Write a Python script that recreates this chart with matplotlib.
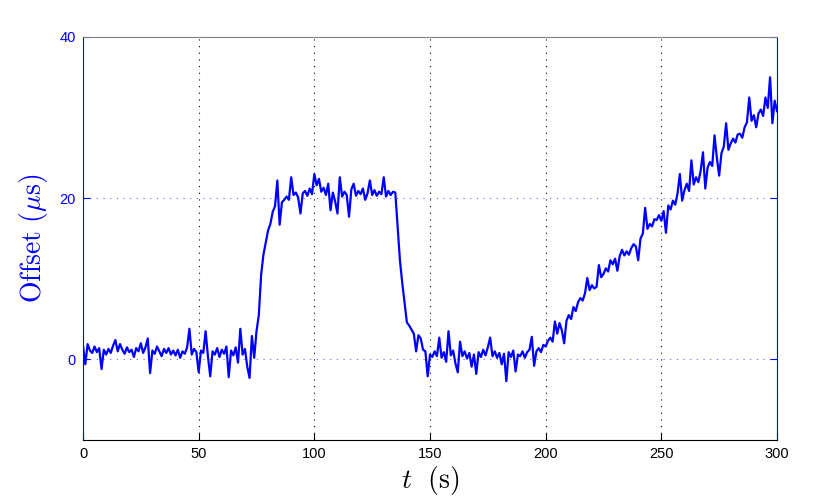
import matplotlib
matplotlib.use('Agg')
import matplotlib.pyplot as plt
import numpy as np

plt.rcParams['font.family'] = ['Liberation Sans', 'DejaVu Sans']
plt.rcParams['mathtext.fontset'] = 'cm'

t = np.arange(0, 301)
offset = [
    1.7, -0.6, 1.9, 1.1, 0.8, 1.6, 0.9, 1.4, -1.2, 1.2,
    0.6, 1.3, 0.8, 1.7, 2.4, 1.0, 1.9, 1.2, 0.7, 1.5,
    0.9, 1.2, 0.3, 1.4, 1.0, 2.0, 0.8, 1.5, 2.6, -1.7,
    1.1, 0.7, 1.6, 1.0, 0.4, 1.3, 0.8, 1.4, 0.6, 1.1,
    0.5, 1.2, 0.2, 1.0, 0.7, 1.5, 3.8, 0.6, 1.3, 0.9,
    -1.6, 1.1, 0.8, 3.5, 0.4, -2.1, 1.0, 0.6, 1.4, 0.3,
    1.2, 0.7, 1.6, -2.2, 1.1, 0.5, 1.5, -0.4, 3.8, 0.6,
    1.3, -0.9, -2.3, 2.9, 0.2, 3.5, 5.5, 10.5, 13.0, 14.5,
    16.0, 16.8, 18.3, 19.0, 22.2, 16.7, 19.5, 19.8, 20.2, 19.8,
    22.6, 20.4, 20.7, 20.1, 18.1, 20.6, 20.9, 20.3, 21.2, 20.5,
    23.0, 21.6, 22.4, 20.8, 21.3, 20.4, 21.8, 18.5, 20.7, 19.6,
    18.1, 22.6, 20.2, 20.8, 20.4, 17.7, 21.1, 21.8, 20.3, 20.9,
    20.5, 21.2, 19.8, 20.6, 22.2, 20.4, 21.0, 20.3, 20.8, 20.5,
    22.6, 20.2, 20.9, 20.4, 20.8, 20.7, 16.4, 12.3, 9.5, 7.0,
    4.6, 4.2, 3.7, 3.2, 1.0, 3.0, 2.6, 1.2, 1.0, -2.1,
    0.6, 0.3, 1.0, 0.4, 2.7, 0.2, 0.9, -0.3, 3.5, 0.5,
    1.1, -0.5, -1.6, 2.2, 0.4, 1.0, 0.1, 0.8, -0.9, 0.6,
    -1.8, 0.9, 0.3, 1.2, 0.5, 1.5, 2.7, 0.4, 1.0, 0.2,
    0.8, -0.6, 0.7, -2.7, 0.9, 0.3, 1.1, -1.5, 0.6, 0.4,
    1.0, 0.2, 0.9, 1.2, 2.8, -0.8, 1.0, 1.4, 0.9, 1.8,
    1.6, 2.3, 2.7, 2.2, 4.7, 3.2, 4.5, 3.6, 2.0, 4.8,
    5.5, 5.0, 6.5, 6.0, 7.1, 7.6, 7.3, 8.2, 10.1, 8.6,
    9.2, 8.8, 9.0, 11.7, 10.2, 10.6, 11.3, 10.9, 12.3, 11.8,
    12.5, 11.0, 12.8, 13.6, 12.9, 13.4, 13.0, 13.8, 14.3, 14.0,
    12.3, 15.0, 15.6, 18.8, 16.2, 16.8, 16.5, 17.4, 17.3, 17.9,
    17.2, 18.4, 15.7, 19.1, 18.6, 19.7, 19.2, 20.6, 23.0, 19.7,
    21.0, 21.8, 20.9, 24.7, 21.7, 22.6, 22.0, 23.4, 25.7, 21.2,
    23.8, 24.5, 24.0, 27.8, 25.0, 22.8, 25.6, 26.4, 29.3, 26.0,
    26.8, 27.4, 26.9, 27.9, 28.0, 27.5, 28.8, 29.4, 32.5, 29.6,
    30.3, 28.8, 30.5, 31.0, 30.2, 32.5, 31.2, 35.0, 29.3, 32.1,
    30.8,
]

xticks = [0, 50, 100, 150, 200, 250, 300]
yticks = [0, 20, 40]

fig = plt.figure(figsize=(8.3, 4.98), dpi=100)
ax = fig.add_axes([83 / 830, 1 - 440 / 498, (777 - 83) / 830, (440 - 37) / 498])

ax.plot(t, offset, color='#0000ff', linewidth=1.6)

ax.set_xlim(0, 300)
ax.set_ylim(-10, 40)
ax.set_xticks(xticks)
ax.set_yticks(yticks)

# grid: vertical black dotted, horizontal blue dotted
ax.xaxis.grid(True, linestyle=(0, (1, 5)), color='black', linewidth=0.8)
ax.yaxis.grid(True, linestyle=(0, (1, 5)), color='#0000ff', linewidth=0.8, alpha=0.6)

ax.tick_params(axis='x', direction='in', length=5, colors='black', labelsize=10.5, pad=5)
ax.tick_params(axis='y', direction='in', length=5, colors='#0000ff', labelsize=10.5,
               right=True, pad=5)

ax.spines['left'].set_color('#0000ff')
ax.spines['right'].set_color('#0000ff')
ax.spines['top'].set_color('#808080')
ax.spines['bottom'].set_color('black')

ax.set_xlabel(r'$t\ \ \mathrm{(s)}$', fontsize=20, labelpad=2)
ax.set_ylabel(r'$\mathrm{Offset}\ (\mu\mathrm{s})$', fontsize=20, color='#0000ff')
ax.yaxis.set_label_coords(-0.047, 0.5)

fig.savefig('out.png', dpi=100, facecolor='white')
